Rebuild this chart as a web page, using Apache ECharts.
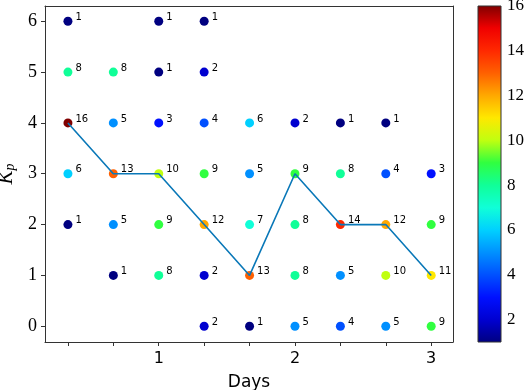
<!DOCTYPE html>
<html>
<head>
<meta charset="utf-8">
<script src="https://cdn.jsdelivr.net/npm/echarts@6/dist/echarts.min.js"></script>
<style>
  html, body { margin: 0; padding: 0; background: #fff; }
  #main { width: 526px; height: 390px; }
</style>
</head>
<body>
<div id="main"></div>
<script>
  // x positions (days), one column every 3rd of a day
  const days = [1/3, 2/3, 1, 4/3, 5/3, 2, 7/3, 8/3, 3];
  const kpLevels = [0, 1, 2, 3, 4, 5, 6];
  // counts per Kp level (row) and day column, null = no point
  const counts = {
    6: [1, null, 1, 1, null, null, null, null, null],
    5: [8, 8, 1, 2, null, null, null, null, null],
    4: [16, 5, 3, 4, 6, 2, 1, 1, null],
    3: [6, 13, 10, 9, 5, 9, 8, 4, 3],
    2: [1, 5, 9, 12, 7, 8, 14, 12, 9],
    1: [null, 1, 8, 2, 13, 8, 5, 10, 11],
    0: [null, null, null, 2, 1, 5, 4, 5, 9]
  };
  // most frequent Kp per column
  const modeKp = [4, 3, 3, 2, 1, 3, 2, 2, 1];
  const xTickLabels = [1, 2, 3];
  const cbTicks = [2, 4, 6, 8, 10, 12, 14, 16];
  const cbMin = 1, cbMax = 16;

  // jet-like colours, one per integer value 1..16
  const jetColors = [
    '#000080', '#0000d0', '#0010ff', '#0050ff', '#0090ff', '#00d0ff',
    '#10ffd8', '#10ff98', '#30ff40', '#c0ff10', '#ffe800', '#ffa800',
    '#ff6000', '#ff2800', '#f00000', '#800000'
  ];
  const jetStops = jetColors.map((c, i) => ({offset: 1 - i / (jetColors.length - 1), color: c}));

  const scatterData = [];
  kpLevels.forEach(kp => {
    counts[kp].forEach((v, i) => {
      if (v !== null) scatterData.push([days[i], kp, v]);
    });
  });
  const lineData = modeKp.map((kp, i) => [days[i], kp]);

  const axisColor = '#333';
  const serif = 'Liberation Serif';

  let myChart = echarts.init(document.getElementById('main'));
  myChart.setOption({
    animation: false,
    grid: [
      {left: 45, right: 73, top: 6, bottom: 48, outerBoundsMode: 'none', containLabel: false},
      {left: 478, width: 23, top: 6, bottom: 48, outerBoundsMode: 'none', containLabel: false}
    ],
    visualMap: {
      show: false,
      type: 'continuous',
      seriesIndex: 0,
      dimension: 2,
      min: cbMin,
      max: cbMax,
      inRange: {color: jetColors}
    },
    xAxis: [
      {
        type: 'value', gridIndex: 0, min: 0.165, max: 3.16,
        name: 'Days', nameLocation: 'middle', nameGap: 32,
        nameTextStyle: {fontFamily: 'DejaVu Sans', fontSize: 17, color: '#000'},
        axisLine: {show: true, onZero: false, lineStyle: {color: axisColor, width: 1}},
        axisTick: {show: true, length: 4, customValues: days, lineStyle: {color: axisColor}},
        axisLabel: {customValues: xTickLabels, fontFamily: 'DejaVu Sans', fontSize: 16, color: '#000', margin: 9},
        splitLine: {show: false}
      },
      {
        type: 'value', gridIndex: 0, position: 'top', min: 0.165, max: 3.16,
        axisLine: {show: true, onZero: false, lineStyle: {color: axisColor, width: 1}},
        axisTick: {show: false}, axisLabel: {show: false}, splitLine: {show: false}
      },
      {
        type: 'value', gridIndex: 1, min: 0, max: 1, show: false
      }
    ],
    yAxis: [
      {
        type: 'value', gridIndex: 0, min: -0.31, max: 6.3,
        name: '{k|K}{p|p}', nameLocation: 'middle', nameGap: 28, nameRotate: 90,
        nameTextStyle: {
          rich: {
            k: {fontFamily: serif, fontStyle: 'italic', fontSize: 21, color: '#000'},
            p: {fontFamily: serif, fontStyle: 'italic', fontSize: 14, color: '#000', verticalAlign: 'bottom', padding: [8, 0, 0, 0]}
          }
        },
        axisLine: {show: true, onZero: false, lineStyle: {color: axisColor, width: 1}},
        axisTick: {show: true, length: 4, customValues: kpLevels, lineStyle: {color: axisColor}},
        axisLabel: {customValues: kpLevels, fontFamily: serif, fontSize: 18, color: '#000', margin: 8},
        splitLine: {show: false}
      },
      {
        type: 'value', gridIndex: 0, position: 'right', min: -0.31, max: 6.3,
        axisLine: {show: true, onZero: false, lineStyle: {color: axisColor, width: 1}},
        axisTick: {show: false}, axisLabel: {show: false}, splitLine: {show: false}
      },
      {
        type: 'value', gridIndex: 1, position: 'right', min: cbMin, max: cbMax,
        axisLine: {show: false},
        axisTick: {show: true, length: 4, customValues: cbTicks, lineStyle: {color: axisColor}},
        axisLabel: {customValues: cbTicks, fontFamily: serif, fontSize: 17, color: '#000', margin: 6},
        splitLine: {show: false}
      }
    ],
    series: [
      {
        type: 'scatter',
        xAxisIndex: 0, yAxisIndex: 0,
        symbolSize: 9,
        data: scatterData,
        z: 2,
        itemStyle: {opacity: 1},
        label: {
          show: true,
          position: 'right',
          distance: 3,
          offset: [0, -4],
          formatter: p => p.value[2],
          fontFamily: 'DejaVu Sans',
          fontSize: 10,
          color: '#000'
        }
      },
      {
        type: 'line',
        xAxisIndex: 0, yAxisIndex: 0,
        data: lineData,
        symbol: 'none',
        z: 3,
        lineStyle: {color: '#0a78b8', width: 1.6}
      },
      {
        type: 'custom',
        xAxisIndex: 2, yAxisIndex: 2,
        data: [[0, cbMin, 1, cbMax]],
        renderItem: function (params, api) {
          const p0 = api.coord([api.value(0), api.value(3)]);
          const p1 = api.coord([api.value(2), api.value(1)]);
          return {
            type: 'rect',
            shape: {x: p0[0], y: p0[1], width: p1[0] - p0[0], height: p1[1] - p0[1]},
            style: {
              fill: new echarts.graphic.LinearGradient(0, 0, 0, 1, jetStops),
              stroke: axisColor,
              lineWidth: 1
            }
          };
        }
      }
    ]
  });
</script>
</body>
</html>
